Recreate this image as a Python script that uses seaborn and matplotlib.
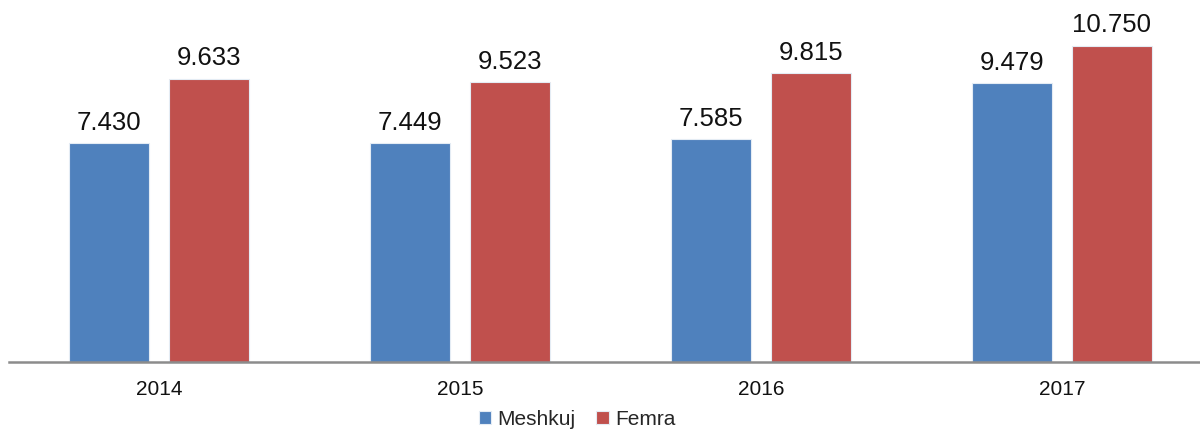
import matplotlib

matplotlib.use("Agg")
import matplotlib.pyplot as plt
import pandas as pd
import seaborn as sns

# Values
years = ["2014", "2015", "2016", "2017"]
meshkuj = [7430, 7449, 7585, 9479]
femra = [9633, 9523, 9815, 10750]
series_names = ["Meshkuj", "Femra"]
colors = ["#4F81BD", "#C0504D"]

df = pd.DataFrame({
    "year": years * 2,
    "value": meshkuj + femra,
    "series": [series_names[0]] * len(years) + [series_names[1]] * len(years),
})

sns.set_theme(style="white")
plt.rcParams["font.family"] = ["Liberation Sans", "DejaVu Sans"]

fig = plt.figure(figsize=(12, 4.3), dpi=100)
ax = fig.add_axes([9 / 1200, 68 / 430, 1191 / 1200, 353 / 430])

sns.barplot(
    data=df, x="year", y="value", hue="series",
    palette=colors, saturation=1, width=0.664, gap=0.2,
    edgecolor="#e4ecf4", linewidth=0.8, ax=ax,
)

# value labels use a dot as thousands separator, as in the source
for container in ax.containers:
    labels = [f"{int(v):,}".replace(",", ".") for v in container.datavalues]
    ax.bar_label(container, labels=labels, padding=6, fontsize=18.5, color="#111111")

ax.set_xlim(-0.498, 3.459)
ax.set_ylim(0, 12000)
ax.set_xlabel("")
ax.set_ylabel("")
ax.set_yticks([])
ax.tick_params(axis="x", length=0, labelsize=15, pad=13, colors="#111111")
for side in ["top", "right", "left"]:
    ax.spines[side].set_visible(False)
ax.spines["bottom"].set_color("#8c8c8c")
ax.spines["bottom"].set_linewidth(1.8)

ax.legend(
    loc="center", bbox_to_anchor=(0.477, -0.163), ncol=2, frameon=False,
    fontsize=15, handlelength=0.6, handleheight=0.6, handletextpad=0.3,
    columnspacing=1.0, borderpad=0,
)

fig.savefig("out.png", dpi=100)
plt.close(fig)
